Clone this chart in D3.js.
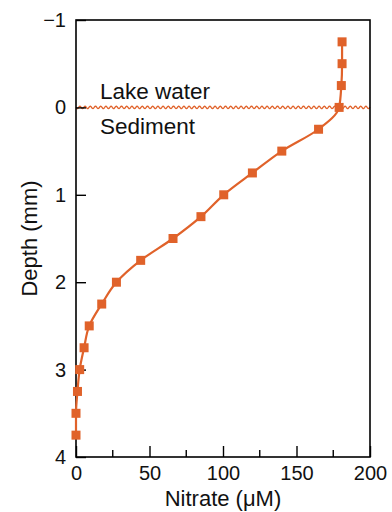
<!DOCTYPE html>
<html>
<head>
<meta charset="utf-8">
<script src="https://cdn.jsdelivr.net/npm/d3@7"></script>
<style>
  body { margin: 0; background: #fff; }
  svg { display: block; font-family: 'Liberation Sans', Arial, sans-serif; }
</style>
</head>
<body>
<svg width="392" height="512"></svg>
<script>
'use strict';

// depth (mm) and nitrate (uM)
var depths = [-0.75, -0.5, -0.25, 0, 0.25, 0.5, 0.75, 1, 1.25, 1.5, 1.75, 2, 2.25, 2.5, 2.75, 3, 3.25, 3.5, 3.75];
var nitrate = [181, 181, 180.5, 179, 165, 140, 120, 100.5, 85, 66, 44, 27.5, 17.5, 9, 5.5, 2.5, 1, 0, 0];
var xTicks = [0, 50, 100, 150, 200];
var xMinorTicks = [25, 75, 125, 175];
var yTicks = [-1, 0, 1, 2, 3, 4];
var boundaryDepth = 0;
var zoneLabels = ['Lake water', 'Sediment'];

var orange = '#e0622a';
var svg = d3.select('svg');

var margin = {left: 76, right: 22, top: 20, bottom: 55};
var width = 392 - margin.left - margin.right;
var height = 512 - margin.top - margin.bottom;

var x = d3.scaleLinear().domain([0, 200]).range([margin.left, margin.left + width]);
var y = d3.scaleLinear().domain([-1, 4]).range([margin.top, margin.top + height]);

var points = depths.map(function (d, i) { return {depth: d, value: nitrate[i]}; });

// wavy sediment boundary
var waveData = d3.range(x(0), x(200) + 0.1, 0.5);
var wave = d3.line()
    .x(function (d) { return d; })
    .y(function (d) { return y(boundaryDepth) + Math.sin((d - x(0)) / 5.2 * 2 * Math.PI) * 1.2; });
svg.append('path')
    .attr('d', wave(waveData))
    .attr('fill', 'none')
    .attr('stroke', orange)
    .attr('stroke-width', 1.3);

// frame
svg.append('rect')
    .attr('x', x(0))
    .attr('y', y(-1))
    .attr('width', width)
    .attr('height', height)
    .attr('fill', 'none')
    .attr('stroke', '#000')
    .attr('stroke-width', 1.6);

// x axis, ticks pointing inward
var xAxis = svg.append('g').attr('transform', 'translate(0,' + y(4) + ')');
xAxis.call(d3.axisBottom(x).tickValues(xTicks).tickSize(-11).tickFormat(d3.format('d')))
    .call(function (g) { g.select('.domain').remove(); });
xAxis.selectAll('line').attr('stroke-width', 1.4);
xAxis.selectAll('text')
    .attr('y', 23)
    .attr('dy', 0)
    .attr('font-size', 20)
    .attr('font-family', 'Liberation Sans, Arial, sans-serif')
    .attr('fill', '#111');
xAxis.selectAll('.minor')
    .data(xMinorTicks)
    .enter().append('line')
    .attr('class', 'minor')
    .attr('x1', function (d) { return x(d); })
    .attr('x2', function (d) { return x(d); })
    .attr('y1', 0)
    .attr('y2', -7)
    .attr('stroke', '#000')
    .attr('stroke-width', 1.4);

// y axis
var yAxis = svg.append('g').attr('transform', 'translate(' + x(0) + ',0)');
yAxis.call(d3.axisLeft(y).tickValues(yTicks).tickSize(-10).tickPadding(12)
        .tickFormat(function (d) { return d < 0 ? '\u2212' + Math.abs(d) : d; }))
    .call(function (g) { g.select('.domain').remove(); });
yAxis.selectAll('line').attr('stroke-width', 1.4);
yAxis.selectAll('text')
    .attr('x', -10)
    .attr('font-size', 20)
    .attr('font-family', 'Liberation Sans, Arial, sans-serif')
    .attr('fill', '#111');

// profile line
var line = d3.line()
    .x(function (d) { return x(d.value); })
    .y(function (d) { return y(d.depth); })
    .curve(d3.curveMonotoneY);
svg.append('path')
    .datum(points)
    .attr('d', line)
    .attr('fill', 'none')
    .attr('stroke', orange)
    .attr('stroke-width', 2.2);

var size = 9;
svg.selectAll('.marker')
    .data(points)
    .enter().append('rect')
    .attr('class', 'marker')
    .attr('x', function (d) { return x(d.value) - size / 2; })
    .attr('y', function (d) { return y(d.depth) - size / 2; })
    .attr('width', size)
    .attr('height', size)
    .attr('fill', orange);

// labels
svg.append('text')
    .attr('x', 100)
    .attr('y', y(boundaryDepth) - 8)
    .attr('font-size', 22.5)
    .attr('fill', '#111')
    .text(zoneLabels[0]);
svg.append('text')
    .attr('x', 100)
    .attr('y', y(boundaryDepth) + 27)
    .attr('font-size', 22.5)
    .attr('fill', '#111')
    .text(zoneLabels[1]);

svg.append('text')
    .attr('x', x(100))
    .attr('y', 506)
    .attr('text-anchor', 'middle')
    .attr('font-size', 22)
    .attr('fill', '#111')
    .text('Nitrate (\u03bcM)');

svg.append('text')
    .attr('transform', 'translate(37,' + (margin.top + height / 2) + ') rotate(-90)')
    .attr('text-anchor', 'middle')
    .attr('font-size', 22)
    .attr('fill', '#111')
    .text('Depth (mm)');
</script>
</body>
</html>
